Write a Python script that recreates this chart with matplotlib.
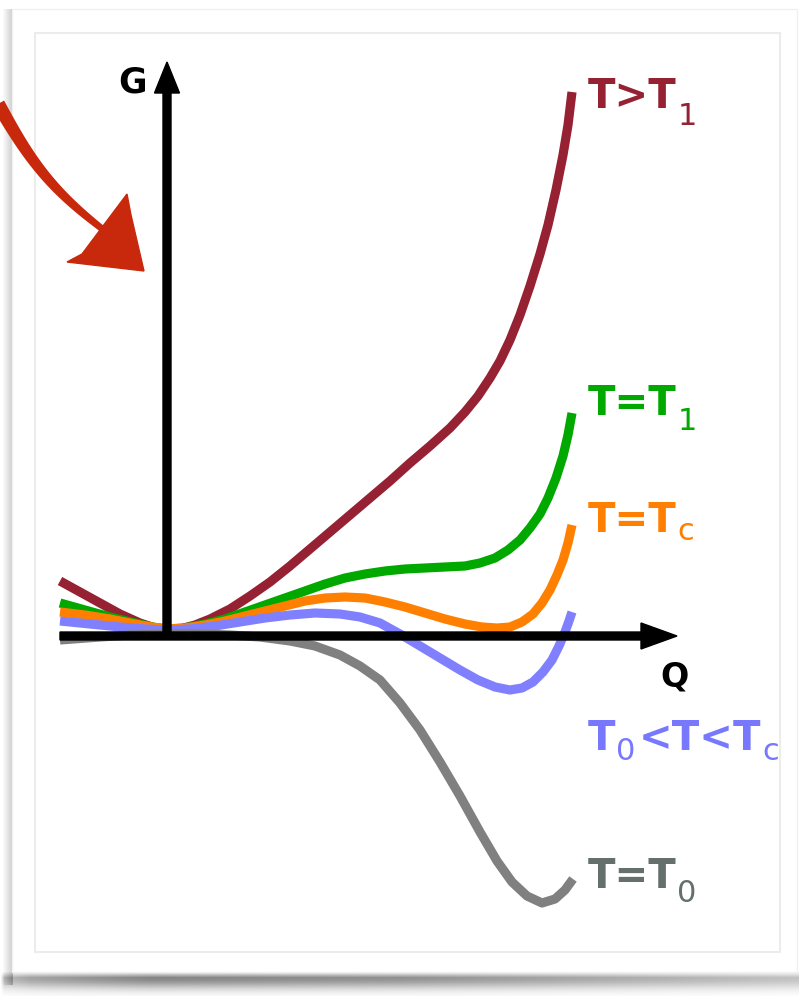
import numpy as np
import matplotlib
matplotlib.use("Agg")
import matplotlib.pyplot as plt
from matplotlib.patches import Rectangle, Polygon

plt.rcParams['font.family'] = ['DejaVu Sans']

# Landau free-energy curves G(Q) for several temperatures
q_hot = [-1.07, -0.87, -0.67, -0.47, -0.27, -0.12, 0.00, 0.13, 0.28, 0.43, 0.63,
         0.83, 1.03, 1.23, 1.43, 1.63, 1.83, 2.03, 2.23, 2.43, 2.63, 2.83, 2.98,
         3.11, 3.23, 3.33, 3.43, 3.53, 3.63, 3.73, 3.81, 3.89, 3.96, 4.01, 4.05]
g_hot = [0.55, 0.44, 0.33, 0.22, 0.13, 0.08, 0.06, 0.07, 0.11, 0.17, 0.27,
         0.40, 0.54, 0.70, 0.87, 1.04, 1.21, 1.38, 1.55, 1.73, 1.90, 2.08, 2.24,
         2.40, 2.58, 2.75, 2.96, 3.21, 3.50, 3.82, 4.11, 4.46, 4.81, 5.11, 5.44]

q_t1 = [-1.07, -0.82, -0.57, -0.32, -0.15, 0.00, 0.18, 0.38, 0.58, 0.78, 0.98,
        1.18, 1.38, 1.58, 1.78, 1.98, 2.18, 2.38, 2.58, 2.78, 2.98, 3.13, 3.28,
        3.41, 3.53, 3.63, 3.73, 3.81, 3.89, 3.96, 4.01, 4.05]
g_t1 = [0.33, 0.26, 0.19, 0.13, 0.09, 0.07, 0.08, 0.12, 0.17, 0.24, 0.31,
        0.38, 0.45, 0.52, 0.58, 0.62, 0.65, 0.67, 0.68, 0.69, 0.70, 0.73, 0.78,
        0.86, 0.96, 1.08, 1.22, 1.38, 1.58, 1.80, 2.01, 2.23]

q_tc = [-1.07, -0.82, -0.57, -0.32, -0.15, 0.00, 0.18, 0.38, 0.58, 0.78, 0.98,
        1.18, 1.38, 1.58, 1.78, 1.98, 2.18, 2.38, 2.58, 2.78, 2.98, 3.15, 3.30,
        3.43, 3.55, 3.66, 3.75, 3.83, 3.90, 3.96, 4.01, 4.05]
g_tc = [0.24, 0.21, 0.17, 0.12, 0.09, 0.07, 0.08, 0.11, 0.15, 0.20, 0.25,
        0.30, 0.35, 0.38, 0.39, 0.38, 0.34, 0.29, 0.23, 0.17, 0.12, 0.09, 0.08,
        0.09, 0.14, 0.22, 0.33, 0.46, 0.61, 0.76, 0.93, 1.11]

q_mid = [-1.07, -0.77, -0.47, -0.22, 0.00, 0.23, 0.48, 0.73, 0.98, 1.23, 1.48,
         1.73, 1.93, 2.13, 2.33, 2.53, 2.73, 2.93, 3.11, 3.28, 3.43, 3.55, 3.66,
         3.76, 3.85, 3.92, 3.98, 4.02, 4.05]
g_mid = [0.15, 0.12, 0.09, 0.07, 0.06, 0.07, 0.10, 0.14, 0.18, 0.21, 0.23,
         0.22, 0.19, 0.13, 0.02, -0.10, -0.22, -0.34, -0.44, -0.51, -0.54, -0.52,
         -0.46, -0.36, -0.24, -0.10, 0.04, 0.15, 0.24]

q_t0 = [-1.07, -0.67, -0.37, 0.00, 0.33, 0.63, 0.93, 1.23, 1.48, 1.73, 1.93,
        2.13, 2.33, 2.53, 2.73, 2.93, 3.13, 3.30, 3.45, 3.60, 3.75, 3.88, 3.98, 4.06]
g_t0 = [-0.04, -0.01, 0.01, 0.02, 0.02, 0.01, -0.01, -0.05, -0.10, -0.19, -0.30,
        -0.44, -0.67, -0.94, -1.26, -1.60, -1.96, -2.25, -2.46, -2.60, -2.67,
        -2.63, -2.54, -2.43]

# curve labels: (text, is_subscript) pieces
labels = [
    [('T>T', False), ('1', True)],
    [('T=T', False), ('1', True)],
    [('T=T', False), ('c', True)],
    [('T', False), ('0', True), ('<T<T', False), ('c', True)],
    [('T=T', False), ('0', True)],
]
label_g = [5.28, 2.21, 1.04, -1.14, -2.52]
sub_drop = [12.0, 11.0, 6.0, 7.5, 10.0]   # subscript drop, points
colors = ['#962133', '#00a800', '#ff8000', '#8080ff', '#808080']
text_colors = ['#962133', '#00a800', '#ff8000', '#7878ff', '#65706c']

W, H = 799, 996
fig = plt.figure(figsize=(W / 100, H / 100), dpi=100)
fig.patch.set_facecolor('white')

# ---- card background, shadow and frame (pixel coordinates) ----
bg = fig.add_axes([0, 0, 1, 1])
bg.set_xlim(0, W)
bg.set_ylim(H, 0)
bg.axis('off')

yy, xx = np.mgrid[0:H, 0:W].astype(float)
alpha = np.zeros((H, W))
# bottom shadow
vert = np.where(yy < 977, np.clip((yy - 971) / 6, 0, 1),
                np.exp(-((yy - 977) / 11.0) ** 2))
horiz = np.interp(xx[0], [0, 4, 30, 150, 400, 650, 799],
                  [0, 0.55, 0.75, 1.0, 0.9, 0.65, 0.5])
alpha += 0.48 * vert * horiz[None, :] * (yy >= 971)
# left shadow
left = np.where((xx >= 2) & (xx < 13) & (yy > 8) & (yy < 985),
                0.18 * np.clip((xx - 2) / 9, 0, 1), 0)
alpha = np.clip(alpha + left, 0, 1)
shadow = np.zeros((H, W, 4))
shadow[..., 3] = alpha
bg.imshow(shadow, extent=(0, W, H, 0), interpolation='bilinear', zorder=0)

bg.add_patch(Rectangle((12, 9), 785, 963, facecolor='white',
                       edgecolor='#f0f0f0', lw=1.0, zorder=1))
bg.add_patch(Rectangle((35, 33), 745, 919, facecolor='white',
                       edgecolor='#ececec', lw=1.5, zorder=2))

# hand-drawn red pointer
red = '#c8280c'
shaft_t = np.linspace(0, 1, 30)
sx = -2 + 116 * shaft_t - 8 * np.sin(np.pi * shaft_t)
sy = 104 + 134 * shaft_t + 8 * np.sin(np.pi * shaft_t)
dx, dy = np.gradient(sx), np.gradient(sy)
nrm = np.hypot(dx, dy)
nx, ny = -dy / nrm, dx / nrm
half = 7.0 - 4.0 * shaft_t
poly = np.concatenate([np.c_[sx + nx * half, sy + ny * half],
                       np.c_[sx - nx * half, sy - ny * half][::-1]])
bg.add_patch(Polygon(poly, closed=True, facecolor=red, edgecolor='none', zorder=3))
bg.add_patch(Polygon([(127, 194), (131, 215), (144, 271), (67, 262), (82, 254)],
                     closed=True, facecolor=red, edgecolor=red, lw=1, zorder=3))

# ---- chart ----
ax = fig.add_axes([0, 0, 1, 1])
ax.set_xlim(-1.67, 6.32)
ax.set_ylim(-3.60, 6.36)
ax.axis('off')
ax.patch.set_alpha(0)

series = [(q_hot, g_hot), (q_t1, g_t1), (q_tc, g_tc), (q_mid, g_mid), (q_t0, g_t0)]
for (q, g), c in zip(series, colors):
    ax.plot(q, g, color=c, lw=6.6, solid_capstyle='butt',
            solid_joinstyle='round', zorder=3)


def draw_label(x, y, parts, color, drop):
    prev = None
    for txt, is_sub in parts:
        kw = dict(color=color, va='baseline', ha='left', zorder=5,
                  fontsize=22 if is_sub else 29,
                  fontweight='normal' if is_sub else 'bold')
        if prev is None:
            prev = ax.text(x, y, txt, **kw)
        else:
            off = (0.5, -drop) if is_sub else (2.5, 0)
            prev = ax.annotate(txt, xy=(1, y), xycoords=(prev, ax.transData),
                               xytext=off, textcoords='offset points', **kw)


for parts, gy, c, d in zip(labels, label_g, text_colors, sub_drop):
    draw_label(4.21, gy, parts, c, d)

# axes with arrow heads
ax.arrow(-1.07, 0.0, 6.17, 0.0, width=0.08, head_width=0.26, head_length=0.36,
         length_includes_head=True, color='black', zorder=6)
ax.arrow(0.0, 0.0, 0.0, 5.74, width=0.08, head_width=0.25, head_length=0.31,
         length_includes_head=True, color='black', zorder=6)
ax.text(-0.20, 5.44, 'G', fontsize=25, fontweight='bold', ha='right', va='baseline', zorder=6)
ax.text(5.08, -0.50, 'Q', fontsize=24, fontweight='bold', ha='center', va='baseline', zorder=6)

fig.savefig('out.png', dpi=100, facecolor='white')
